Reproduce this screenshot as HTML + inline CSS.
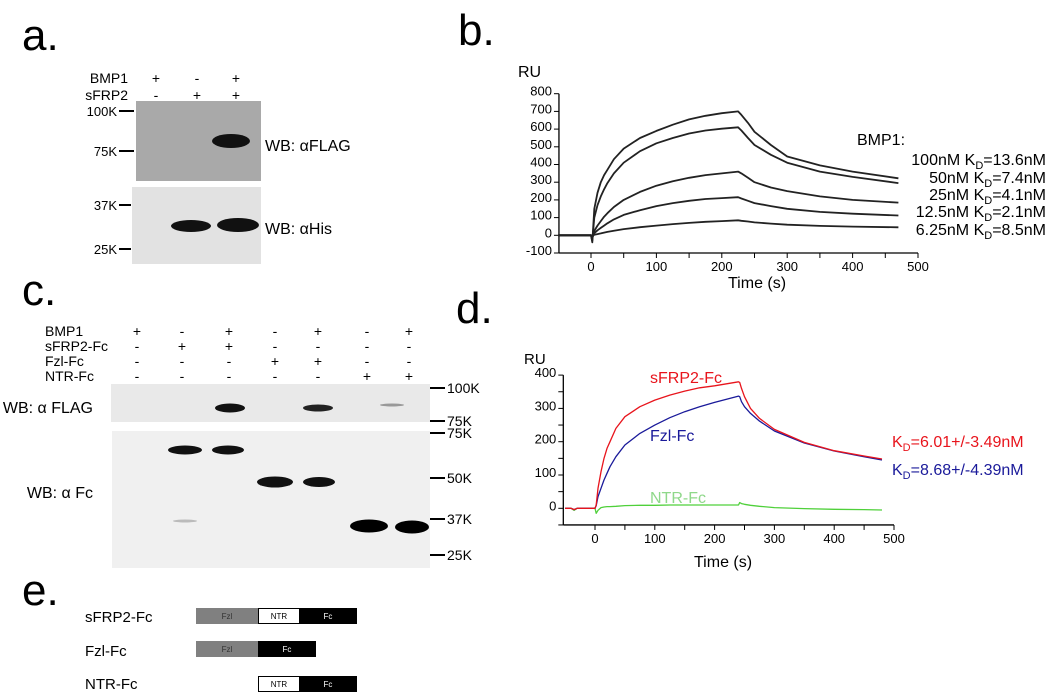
<!DOCTYPE html>
<html><head><meta charset="utf-8"><style>
html,body{margin:0;padding:0;background:#fff;}
svg{display:block;font-family:"Liberation Sans",Arial,sans-serif;}
</style></head><body>
<svg id="fig" width="1050" height="693" viewBox="0 0 1050 693" xmlns="http://www.w3.org/2000/svg">
<g>
<text x="22" y="50" font-size="44">a.</text>
<g font-size="14">
<text x="128" y="83" text-anchor="end">BMP1</text><text x="128" y="100" text-anchor="end">sFRP2</text>
<text x="156" y="83" text-anchor="middle">+</text><text x="197" y="83" text-anchor="middle">-</text><text x="236" y="83" text-anchor="middle">+</text>
<text x="156" y="100" text-anchor="middle">-</text><text x="197" y="100" text-anchor="middle">+</text><text x="236" y="100" text-anchor="middle">+</text>
</g>
<rect x="136" y="101" width="125" height="80" fill="#a9a9a9"/>
<ellipse cx="231" cy="141" rx="19" ry="7" fill="#111"/>
<rect x="132" y="187" width="129" height="77" fill="#e2e2e2"/>
<ellipse cx="191" cy="226" rx="20" ry="6" fill="#111"/>
<ellipse cx="238" cy="225" rx="21" ry="7" fill="#111"/>
<g font-size="13" text-anchor="end">
<text x="117" y="116">100K</text><line x1="119" y1="111" x2="134" y2="111" stroke="#000" stroke-width="2"/>
<text x="117" y="156">75K</text><line x1="119" y1="151" x2="134" y2="151" stroke="#000" stroke-width="2"/>
<text x="117" y="210">37K</text><line x1="119" y1="205" x2="131" y2="205" stroke="#000" stroke-width="2"/>
<text x="117" y="254">25K</text><line x1="119" y1="249" x2="131" y2="249" stroke="#000" stroke-width="2"/>
</g>
<text x="265" y="151" font-size="16">WB: αFLAG</text>
<text x="265" y="234" font-size="16">WB: αHis</text>
</g>
<g>
<text x="22" y="305" font-size="44">c.</text>
<g font-size="14" id="ccond"></g>
<rect x="111" y="384" width="319" height="38" fill="#e9e9e9"/>
<rect x="112" y="431" width="318" height="137" fill="#f0f0f0"/>
<ellipse cx="230" cy="408" rx="15" ry="4.5" fill="#111"/>
<ellipse cx="318" cy="408" rx="15" ry="3.5" fill="#222"/>
<ellipse cx="392" cy="405" rx="12" ry="1.5" fill="#999"/>
<ellipse cx="185" cy="450" rx="17" ry="4.5" fill="#111"/>
<ellipse cx="228" cy="450" rx="16" ry="4.5" fill="#111"/>
<ellipse cx="275" cy="482" rx="18" ry="5.5" fill="#111"/>
<ellipse cx="319" cy="482" rx="16" ry="5" fill="#111"/>
<ellipse cx="369" cy="526" rx="19" ry="6.5" fill="#000"/>
<ellipse cx="412" cy="527" rx="17" ry="6.5" fill="#000"/>
<ellipse cx="185" cy="521" rx="12" ry="1.5" fill="#bbb"/>
<g font-size="14">
<line x1="430" y1="388" x2="445" y2="388" stroke="#000" stroke-width="2"/><text x="447" y="393">100K</text>
<line x1="430" y1="421" x2="445" y2="421" stroke="#000" stroke-width="2"/><text x="447" y="426">75K</text>
<line x1="430" y1="433" x2="445" y2="433" stroke="#000" stroke-width="2"/><text x="447" y="438">75K</text>
<line x1="430" y1="478" x2="445" y2="478" stroke="#000" stroke-width="2"/><text x="447" y="483">50K</text>
<line x1="430" y1="519" x2="445" y2="519" stroke="#000" stroke-width="2"/><text x="447" y="524">37K</text>
<line x1="430" y1="555" x2="445" y2="555" stroke="#000" stroke-width="2"/><text x="447" y="560">25K</text>
</g>
<text x="93" y="413" font-size="16" text-anchor="end">WB: α FLAG</text>
<text x="93" y="498" font-size="16" text-anchor="end">WB: α Fc</text>
</g>
<g>
<text x="22" y="605" font-size="44">e.</text>
<g font-size="15"><text x="85" y="622">sFRP2-Fc</text><text x="85" y="656">Fzl-Fc</text><text x="85" y="689">NTR-Fc</text></g>
<g font-size="8" text-anchor="middle">
<rect x="196" y="608" width="62" height="16" fill="#808080"/><text x="227" y="619" fill="#333">Fzl</text>
<rect x="258.5" y="608.5" width="41" height="15" fill="#fff" stroke="#000"/><text x="279" y="619">NTR</text>
<rect x="299" y="608" width="58" height="16" fill="#000"/><text x="328" y="619" fill="#fff">Fc</text>
<rect x="196" y="641" width="62" height="16" fill="#808080"/><text x="227" y="652" fill="#333">Fzl</text>
<rect x="258" y="641" width="58" height="16" fill="#000"/><text x="287" y="652" fill="#fff">Fc</text>
<rect x="258.5" y="676.5" width="41" height="15" fill="#fff" stroke="#000"/><text x="279" y="687">NTR</text>
<rect x="299" y="676" width="58" height="16" fill="#000"/><text x="328" y="687" fill="#fff">Fc</text>
</g>
</g>
<g id="pb">
<text x="458" y="45" font-size="44">b.</text>
<text x="518" y="77" font-size="16">RU</text>
<text x="728" y="288" font-size="16">Time (s)</text>
<text x="857" y="145" font-size="16">BMP1:</text>
</g>
<g id="pd">
<text x="456" y="323" font-size="44">d.</text>
<text x="524" y="364" font-size="15">RU</text>
<text x="694" y="567" font-size="16">Time (s)</text>
<text x="650" y="383" font-size="16" fill="#e8141c">sFRP2-Fc</text>
<text x="650" y="441" font-size="16" fill="#1a1a9a">Fzl-Fc</text>
<text x="650" y="503" font-size="16" fill="#8fd88a">NTR-Fc</text>
<text x="892" y="447" font-size="16" fill="#e8141c">K<tspan font-size="11" dy="4">D</tspan><tspan dy="-4">=6.01+/-3.49nM</tspan></text>
<text x="892" y="475" font-size="16" fill="#1a1a9a">K<tspan font-size="11" dy="4">D</tspan><tspan dy="-4">=8.68+/-4.39nM</tspan></text>
</g>
</svg>
<script>
const NS="http://www.w3.org/2000/svg";
const cRows=["BMP1","sFRP2-Fc","Fzl-Fc","NTR-Fc"];
const cSigns=[["+","-","+","-","+","-","+"],["-","+","+","-","-","-","-"],["-","-","-","+","+","-","-"],["-","-","-","-","-","+","+"]];
const cLaneX=[137,182,229,275,318,367,409];
// Panel b data
const bTimes=[-50,-5,0,2,5,10,15,20,25,35,50,75,100,125,150,175,200,225,230,240,250,275,300,350,400,470];
const bConc=["100nM","50nM","25nM","12.5nM","6.25nM"];
const bKd=["13.6nM","7.4nM","4.1nM","2.1nM","8.5nM"];
const b100=[0,0,0,-40,150,240,300,340,370,430,490,550,590,625,655,675,690,700,680,635,585,510,445,395,360,322];
const b50=[0,0,0,-30,100,170,220,260,295,350,410,475,520,550,575,592,602,610,592,550,510,455,410,360,330,295];
const b25=[0,0,0,-20,25,55,80,105,125,160,200,245,280,305,325,340,350,360,350,325,300,270,250,220,200,185];
const b12=[0,0,0,-10,12,28,42,55,68,90,115,142,165,182,195,205,210,215,208,195,182,165,150,132,122,112];
const b6=[0,0,0,-5,3,7,11,15,19,26,35,46,55,63,70,76,80,85,82,78,73,66,60,53,49,45];
const bYTicks=[-100,0,100,200,300,400,500,600,700,800];
const bXTicks=[0,100,200,300,400,500];
// Panel d data
const dTimes=[-50,-40,-35,-30,0,2,5,10,15,20,25,35,50,75,100,125,150,175,200,240,242,245,250,260,275,300,350,400,450,480];
const dSfrp=[0,0,-4,0,0,10,60,110,150,180,200,240,275,305,325,340,352,362,368,380,378,360,335,300,270,237,198,173,157,148];
const dFzl=[0,0,-4,0,0,8,35,60,85,105,125,155,190,225,250,272,290,305,318,337,335,320,305,285,262,232,196,172,155,145];
const dNtr=[0,0,-6,0,0,-15,-6,2,4,5,5,6,8,9,9,10,10,10,10,10,17,14,12,9,6,2,-1,-3,-4,-5];
const dYTicks=[0,100,200,300,400];
const dXTicks=[0,100,200,300,400,500];

function el(tag,attrs,parent){const e=document.createElementNS(NS,tag);for(const k in attrs)e.setAttribute(k,attrs[k]);parent.appendChild(e);return e;}
const cc=document.getElementById('ccond');
cRows.forEach((r,i)=>{
  const y=336+i*15;
  const t=el('text',{x:45,y:y},cc);t.textContent=r;
  
  
  cSigns[i].forEach((s,j)=>{const u=el('text',{x:cLaneX[j],y:y,'text-anchor':'middle'},cc);u.textContent=s;});
});

function axes(g,xs,ys,xmin,xmax,ymin,ymax,xt,yt,xminor,yminor){
  el('line',{x1:xs(xmin),y1:ys(ymin),x2:xs(xmax),y2:ys(ymin),stroke:'#000','stroke-width':1.3},g);
  el('line',{x1:xs(xmin),y1:ys(ymin),x2:xs(xmin),y2:ys(ymax),stroke:'#000','stroke-width':1.3},g);
  for(let t=xt[0];t<=xmax;t+=xminor){el('line',{x1:xs(t),y1:ys(ymin),x2:xs(t),y2:ys(ymin)+5,stroke:'#000'},g);}
  xt.forEach(t=>{const l=el('text',{x:xs(t),y:ys(ymin)+18,'text-anchor':'middle','font-size':13},g);l.textContent=t;});
  for(let v=ymin;v<=ymax;v+=yminor){el('line',{x1:xs(xmin)-5,y1:ys(v),x2:xs(xmin),y2:ys(v),stroke:'#000'},g);}
  yt.forEach(v=>{const l=el('text',{x:xs(xmin)-7,y:ys(v)+2,'text-anchor':'end','font-size':13},g);l.textContent=v;});
}
function curve(g,xs,ys,T,V,color,name){
  const p=el('polyline',{points:T.map((t,i)=>xs(t).toFixed(1)+','+ys(V[i]).toFixed(1)).join(' '),fill:'none',stroke:color,'stroke-width':color=='#222'?1.8:1.3,'stroke-linejoin':'round'},g);
  
  
}
const pb=document.getElementById('pb');
const bx=t=>591+t*0.654, by=v=>235.3-v*0.177;
axes(pb,bx,by,-49,500,-100,800,bXTicks,bYTicks,50,100);
[b100,b50,b25,b12,b6].forEach((s,i)=>curve(pb,bx,by,bTimes,s,'#222','sensorgram-'+bConc[i]));
const legY=[165,183,200,217,235];
bConc.forEach((c,i)=>{
  const t=el('text',{x:1046,y:legY[i],'text-anchor':'end','font-size':16},pb);
  t.innerHTML=c+' K<tspan font-size="11" dy="4">D</tspan><tspan dy="-4">='+bKd[i]+'</tspan>';
  
  
});
const pd=document.getElementById('pd');
const dx=t=>595+t*0.598, dy=v=>508.3-v*0.333;
axes(pd,dx,dy,-53,500,-50,400,dXTicks,dYTicks,50,50);
curve(pd,dx,dy,dTimes,dNtr,'#4fd03a','sensorgram-ntr-fc');
curve(pd,dx,dy,dTimes,dFzl,'#1a1a9a','sensorgram-fzl-fc');
curve(pd,dx,dy,dTimes,dSfrp,'#e8141c','sensorgram-sfrp2-fc');
</script>
</body></html>
